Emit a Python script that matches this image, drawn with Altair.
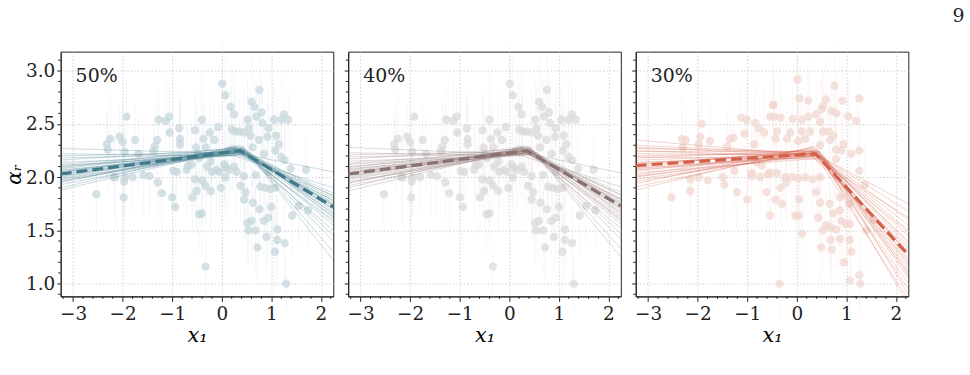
import altair as alt
import pandas as pd

# ---------------- data ----------------
panel_labels = ["50%", "40%", "30%"]
line_colors = ["#3f7a8c", "#8a7171", "#d4604a"]
point_colors = ["#c5d5da", "#d9d7d7", "#f1d5cf"]

x_domain = [-3.25, 2.25]
y_domain = [0.88, 3.18]

# points shared by the 50% and 40% panels
p12_x = [-1.92, -1.27, -1.13, -1.06, -2.25, -2.32, -2.30, -2.06, -2.00, -1.75,
         -1.05, -0.86, -1.30, -1.35, -1.38, -0.84, -0.84, -0.54, -1.96, -1.68,
         -2.15, -1.97, -1.95, -1.80, -1.58, -1.46, -2.53, -1.98, -1.29, -1.21,
         -1.00, -0.94, -0.98, -0.91, -0.71, -0.68, -0.61, -0.54, -0.59, -0.51,
         -0.46, -2.18,
         0.01, 0.07, 0.76, 0.60, 0.66, 0.18, 0.25, 0.70, 0.80, 0.52,
         0.82, 1.05, 1.20, 1.26, 1.34, -0.40, -0.24, -0.07, -0.37, -0.15,
         0.20, 0.27, 0.35, 0.45, 0.55, 0.58, 0.94, 0.92, 1.10, 0.75,
         1.15, 1.08, 1.20, 1.27, 1.39, 1.70, -0.52, -0.32, -0.22, -0.11,
         0.08, 0.15, -0.40, -0.33, -0.22, -0.02, 0.07, 0.45, 0.38, 0.48,
         0.45, 0.63, 0.76, 0.78, 0.88, 0.98, 1.08, 1.00, 0.94, 0.85,
         0.52, 0.60, 0.54, 0.68, 0.90, 1.12, 1.12, 1.27, 1.07, 0.72,
         1.42, -0.40, -0.33, 1.30, 1.74, 1.55, -0.49, 0.13, 0.21,
         -0.30, -0.20, -0.05, 0.05, 0.25, 0.30, -0.45, 0.40, 0.62, 0.85,
         0.95, 0.68]
p12_y = [2.57, 2.54, 2.53, 2.57, 2.36, 2.31, 2.26, 2.38, 2.33, 2.35,
         2.42, 2.46, 2.35, 2.29, 2.25, 2.36, 2.31, 2.44, 2.24, 2.22,
         2.00, 1.96, 2.00, 2.00, 2.02, 2.01, 1.84, 1.81, 1.95, 1.85,
         1.81, 1.72, 2.06, 2.05, 2.07, 2.11, 2.12, 1.98, 1.81, 1.87,
         1.65, 2.00,
         2.88, 2.77, 2.82, 2.71, 2.66, 2.66, 2.59, 2.57, 2.61, 2.54,
         2.51, 2.54, 2.54, 2.59, 2.54, 2.54, 2.42, 2.47, 2.36, 2.35,
         2.45, 2.43, 2.43, 2.42, 2.46, 2.39, 2.46, 2.38, 2.39, 2.35,
         2.31, 2.25, 2.19, 2.16, 2.08, 2.07, 2.28, 2.28, 2.15, 2.07,
         2.09, 2.07, 1.97, 1.92, 1.87, 1.90, 2.00, 2.01, 1.92, 1.86,
         1.79, 1.76, 1.70, 1.91, 1.90, 1.89, 1.90, 1.72, 1.62, 1.59,
         1.57, 1.59, 1.50, 1.50, 1.44, 1.51, 1.41, 1.38, 1.30, 1.34,
         1.64, 1.66, 1.16, 1.00, 1.69, 1.73, 2.22, 2.25, 2.26,
         2.10, 2.05, 2.05, 2.12, 2.10, 2.05, 2.18, 2.25, 2.28, 2.22,
         2.05, 2.02]
p12_err = [0.35, 0.30, 0.40, 0.28, 0.45, 0.32, 0.38, 0.30, 0.42, 0.35,
           0.40, 0.33, 0.36, 0.44, 0.30, 0.38, 0.41, 0.35, 0.29, 0.37,
           0.46, 0.34, 0.40, 0.31, 0.39, 0.36, 0.30, 0.42, 0.35, 0.38,
           0.33, 0.40, 0.37, 0.29, 0.43, 0.35, 0.39, 0.32, 0.36, 0.41,
           0.34, 0.38,
           0.40, 0.35, 0.32, 0.45, 0.30, 0.38, 0.42, 0.36, 0.33, 0.40,
           0.37, 0.31, 0.39, 0.35, 0.28, 0.44, 0.36, 0.41, 0.33, 0.38,
           0.40, 0.35, 0.30, 0.42, 0.37, 0.34, 0.39, 0.32, 0.36, 0.43,
           0.35, 0.38, 0.31, 0.40, 0.34, 0.30, 0.45, 0.37, 0.33, 0.41,
           0.36, 0.39, 0.42, 0.35, 0.38, 0.32, 0.40, 0.36, 0.33, 0.44,
           0.37, 0.31, 0.39, 0.35, 0.42, 0.30, 0.38, 0.36, 0.41, 0.34,
           0.37, 0.40, 0.33, 0.39, 0.35, 0.32, 0.43, 0.36, 0.38, 0.31,
           0.35, 0.40, 0.30, 0.28, 0.33, 0.37, 0.41, 0.36, 0.39,
           0.34, 0.38, 0.42, 0.35, 0.31, 0.40, 0.37, 0.33, 0.36, 0.39,
           0.35, 0.38]

# points of the 30% panel
p3_x = [-1.92, -1.13, -1.01, -0.84, -0.76, -0.66, -0.54, -0.48, -1.05, -1.28,
        -1.35, -1.40, -2.32, -2.24, -2.30, -1.95, -1.75, -1.98, -0.86, -0.91,
        -1.26, -1.50, -1.46, -1.80, -1.98, -2.15, -2.53, -2.15, -1.21, -1.00,
        -0.91, -0.74, -0.61, -0.58, -0.54, -0.81, -0.71,
        0.01, 0.76, 0.05, 0.23, 0.59, 0.53, 0.50, 0.92, 1.26, -0.47,
        -0.46, -0.33, -0.08, 0.10, 0.39, 0.23, 0.70, 0.80, 1.04, 1.20,
        0.47, -0.40, -0.13, 0.10, 0.27, 0.53, 0.64, -0.43, -0.20, 0.03,
        0.17, 0.67, 0.74, 0.94, 0.79, 0.90, 1.26, 1.10, 0.79, 0.47,
        -0.53, -0.40, -0.23, -0.10, 0.03, 0.17, 0.32, 0.47, -0.33, -0.21,
        -0.43, -0.30, 0.05, 0.39, 0.47, 0.66, 0.74, 0.87, 0.99, 1.07,
        1.26, 1.37, 0.87, 1.06, -0.03, 0.05, 0.43, 0.59, 0.68, 0.52,
        0.79, 0.90, 1.07, 0.87, 0.68, 0.49, 0.70, 1.10, 0.95, 1.07,
        1.26, 1.28, -0.35, 0.11, 1.40, 1.55]
p3_y = [2.50, 2.56, 2.54, 2.51, 2.46, 2.42, 2.57, 2.68, 2.41, 2.37,
        2.36, 2.29, 2.36, 2.35, 2.28, 2.38, 2.34, 2.31, 2.31, 2.04,
        2.06, 2.00, 1.93, 1.97, 2.00, 1.98, 1.81, 1.87, 1.86, 1.79,
        2.01, 2.00, 1.86, 2.03, 1.64, 2.14, 2.11,
        2.92, 2.86, 2.74, 2.72, 2.73, 2.67, 2.64, 2.72, 2.74, 2.68,
        2.57, 2.56, 2.55, 2.54, 2.59, 2.57, 2.62, 2.60, 2.57, 2.53,
        2.52, 2.43, 2.42, 2.43, 2.43, 2.43, 2.43, 2.36, 2.36, 2.34,
        2.36, 2.35, 2.39, 2.31, 2.26, 2.25, 2.25, 2.22, 2.17, 2.30,
        2.04, 2.04, 2.00, 2.00, 1.99, 2.00, 1.98, 2.00, 1.90, 1.95,
        1.79, 1.75, 1.79, 1.86, 1.76, 1.75, 1.66, 1.69, 1.56, 1.56,
        2.06, 1.93, 1.81, 1.75, 1.64, 1.64, 1.62, 1.55, 1.53, 1.50,
        1.51, 1.59, 1.41, 1.42, 1.41, 1.34, 1.32, 1.30, 1.20, 1.03,
        1.08, 1.00, 1.00, 1.47, 1.50, 1.60]
p3_err = [0.38, 0.33, 0.40, 0.35, 0.30, 0.42, 0.36, 0.39, 0.31, 0.44,
          0.37, 0.34, 0.40, 0.32, 0.38, 0.35, 0.41, 0.30, 0.36, 0.43,
          0.39, 0.33, 0.37, 0.40, 0.35, 0.31, 0.38, 0.42, 0.34, 0.36,
          0.40, 0.33, 0.37, 0.41, 0.35, 0.39, 0.32,
          0.36, 0.40, 0.33, 0.38, 0.42, 0.35, 0.31, 0.37, 0.34, 0.40,
          0.36, 0.39, 0.32, 0.43, 0.35, 0.38, 0.30, 0.41, 0.36, 0.34,
          0.39, 0.37, 0.33, 0.40, 0.35, 0.42, 0.31, 0.38, 0.36, 0.40,
          0.34, 0.37, 0.39, 0.33, 0.41, 0.35, 0.38, 0.30, 0.36, 0.42,
          0.37, 0.34, 0.40, 0.36, 0.31, 0.39, 0.35, 0.43, 0.33, 0.38,
          0.36, 0.40, 0.34, 0.37, 0.41, 0.32, 0.39, 0.35, 0.38, 0.30,
          0.36, 0.40, 0.33, 0.37, 0.42, 0.35, 0.39, 0.31, 0.38, 0.34,
          0.40, 0.36, 0.33, 0.41, 0.37, 0.35, 0.39, 0.32, 0.38, 0.36,
          0.34, 0.30, 0.35, 0.40, 0.37, 0.33]

# posterior sample lines: left-end value, break x, break value, right-end value
s1_left = [2.27, 2.20, 2.16, 2.12, 2.10, 2.08, 2.06, 2.05, 2.04, 2.02,
           2.00, 1.98, 1.97, 1.95, 1.93, 1.90, 1.88, 2.14, 2.22, 2.01,
           2.07, 2.03, 2.11, 1.99, 2.09, 1.96, 2.18, 2.05]
s1_bx = [0.45, 0.40, 0.30, 0.35, 0.42, 0.38, 0.33, 0.40, 0.36, 0.30,
         0.38, 0.44, 0.35, 0.32, 0.41, 0.37, 0.29, 0.50, 0.25, 0.48,
         0.55, 0.52, 0.34, 0.39, 0.31, 0.43, 0.36, 0.46]
s1_by = [2.22, 2.24, 2.27, 2.25, 2.23, 2.26, 2.25, 2.27, 2.24, 2.26,
         2.28, 2.25, 2.23, 2.29, 2.26, 2.30, 2.27, 2.21, 2.20, 2.24,
         2.22, 2.23, 2.21, 2.24, 2.28, 2.27, 2.22, 2.25]
s1_right = [1.85, 1.80, 1.70, 1.75, 1.78, 1.68, 1.72, 1.65, 1.74, 1.60,
            1.70, 1.82, 1.76, 1.55, 1.66, 1.62, 1.50, 2.05, 1.90, 1.40,
            1.22, 1.30, 1.83, 1.58, 1.63, 1.73, 1.78, 1.45]

s2_left = [2.28, 2.21, 2.17, 2.13, 2.10, 2.07, 2.06, 2.04, 2.03, 2.01,
           2.00, 1.98, 1.96, 1.94, 1.92, 1.90, 1.87, 2.15, 2.23, 2.02,
           2.08, 2.04, 2.12, 1.99, 2.09, 1.95, 2.19, 2.05]
s2_bx = [0.44, 0.38, 0.31, 0.35, 0.40, 0.37, 0.33, 0.41, 0.35, 0.29,
         0.39, 0.45, 0.34, 0.31, 0.42, 0.36, 0.28, 0.52, 0.26, 0.47,
         0.54, 0.50, 0.33, 0.38, 0.30, 0.43, 0.36, 0.45]
s2_by = [2.21, 2.24, 2.27, 2.25, 2.23, 2.26, 2.24, 2.27, 2.25, 2.26,
         2.28, 2.24, 2.23, 2.29, 2.26, 2.29, 2.27, 2.21, 2.20, 2.24,
         2.22, 2.23, 2.22, 2.25, 2.28, 2.26, 2.22, 2.25]
s2_right = [1.86, 1.79, 1.71, 1.76, 1.80, 1.69, 1.73, 1.66, 1.75, 1.62,
            1.71, 1.83, 1.77, 1.56, 1.67, 1.60, 1.52, 2.04, 1.91, 1.42,
            1.25, 1.33, 1.84, 1.59, 1.64, 1.74, 1.79, 1.47]

s3_left = [2.35, 2.30, 2.27, 2.25, 2.22, 2.20, 2.18, 2.16, 2.14, 2.12,
           2.10, 2.08, 2.06, 2.04, 2.02, 2.00, 1.98, 1.96, 1.94, 1.91,
           1.88, 2.19, 2.28, 2.07, 2.13, 2.01, 2.24, 2.09]
s3_bx = [0.45, 0.40, 0.35, 0.50, 0.42, 0.38, 0.33, 0.45, 0.40, 0.36,
         0.30, 0.44, 0.39, 0.48, 0.34, 0.42, 0.37, 0.46, 0.32, 0.41,
         0.35, 0.52, 0.28, 0.55, 0.43, 0.38, 0.47, 0.31]
s3_by = [2.20, 2.22, 2.24, 2.19, 2.21, 2.23, 2.25, 2.22, 2.20, 2.24,
         2.26, 2.21, 2.23, 2.18, 2.27, 2.25, 2.22, 2.24, 2.28, 2.26,
         2.29, 2.17, 2.21, 2.20, 2.23, 2.20, 2.24, 2.19]
s3_right = [1.75, 1.60, 1.50, 1.68, 1.40, 1.30, 1.20, 1.35, 1.25, 1.10,
            1.45, 1.15, 1.00, 1.28, 0.95, 1.05, 0.85, 1.22, 1.38, 0.80,
            1.12, 1.55, 1.33, 0.90, 1.18, 1.48, 1.08, 1.62]

# posterior mean lines (left value, break x, break value, right value)
mean_left = [2.03, 2.03, 2.11]
mean_bx = [0.37, 0.35, 0.38]
mean_by = [2.25, 2.25, 2.22]
mean_right = [1.72, 1.73, 1.27]

# axis tick positions
x_major = [-3, -2, -1, 0, 1, 2]
x_minor = [-3.2, -2.8, -2.6, -2.4, -2.2, -1.8, -1.6, -1.4, -1.2, -0.8, -0.6,
           -0.4, -0.2, 0.2, 0.4, 0.6, 0.8, 1.2, 1.4, 1.6, 1.8, 2.2]
y_major = [1.0, 1.5, 2.0, 2.5, 3.0]
y_minor = [0.9, 1.1, 1.2, 1.3, 1.4, 1.6, 1.7, 1.8, 1.9, 2.1, 2.2, 2.3, 2.4,
           2.6, 2.7, 2.8, 2.9, 3.1]

FONT = "'DejaVu Serif', 'Liberation Serif', 'Noto Serif', 'Times New Roman', serif"
W, H = 274, 246
MINOR = 2.5


def panel(i, px, py, pe, sl, sbx, sby, sr, show_y):
    color = line_colors[i]
    pcolor = point_colors[i]
    pts = pd.DataFrame({
        "x": px, "y": py,
        "lo": [a - b for a, b in zip(py, pe)],
        "hi": [a + b for a, b in zip(py, pe)],
    })
    rows = []
    for k in range(len(sl)):
        rows += [
            {"s": k, "x": x_domain[0], "y": sl[k], "o": 0},
            {"s": k, "x": sbx[k], "y": sby[k], "o": 1},
            {"s": k, "x": x_domain[1], "y": sr[k], "o": 2},
        ]
    samples = pd.DataFrame(rows)
    mean = pd.DataFrame({
        "x": [x_domain[0], mean_bx[i], x_domain[1]],
        "y": [mean_left[i], mean_by[i], mean_right[i]],
        "o": [0, 1, 2],
    })

    xs = alt.Scale(domain=x_domain, nice=False, zero=False)
    ys = alt.Scale(domain=y_domain, nice=False, zero=False)
    xax = alt.Axis(values=x_major, format=".0f", tickSize=5, labelFlush=False,
                   title="x₁", titleFont=FONT, titleFontStyle="italic",
                   titleFontSize=21, titleFontWeight="normal", titlePadding=2)
    yax = alt.Axis(values=y_major, format=".1f", tickSize=4, labels=show_y,
                   title="αᵣ" if show_y else None, titleFont=FONT,
                   titleFontStyle="italic", titleFontSize=20,
                   titleFontWeight="normal", titlePadding=1)
    X = alt.X("x:Q", scale=xs, axis=xax)
    Y = alt.Y("y:Q", scale=ys, axis=yax)

    err = alt.Chart(pts).mark_rule(color=pcolor, opacity=0.2, strokeWidth=1).encode(
        x=X, y=alt.Y("lo:Q", scale=ys, axis=yax), y2="hi:Q")
    dots = alt.Chart(pts).mark_circle(color=pcolor, opacity=0.72, size=70).encode(x=X, y=Y)
    lines = alt.Chart(samples).mark_line(color=color, opacity=0.35, strokeWidth=0.8,
                                         clip=True).encode(
        x=X, y=Y, detail="s:N", order="o:Q")
    mline = alt.Chart(mean).mark_line(color=color, strokeWidth=3.2, strokeDash=[11, 5],
                                      clip=True).encode(x=X, y=Y, order="o:Q")
    lab = alt.Chart(pd.DataFrame({"t": [panel_labels[i]]})).mark_text(
        font=FONT, fontSize=19, align="left", baseline="middle", color="#222"
    ).encode(text="t:N", x=alt.value(15), y=alt.value(25))

    xminor = alt.Chart(pd.DataFrame({"v": x_minor})).mark_rule(
        color="#222", strokeWidth=1).encode(
        x=alt.X("v:Q", scale=xs, axis=xax), y=alt.value(H), y2=alt.value(H + MINOR))
    yminor = alt.Chart(pd.DataFrame({"v": y_minor})).mark_rule(
        color="#222", strokeWidth=1).encode(
        y=alt.Y("v:Q", scale=ys, axis=yax), x=alt.value(0), x2=alt.value(-MINOR))

    return alt.layer(err, dots, lines, mline, lab, xminor, yminor).properties(
        width=W, height=H)


c1 = panel(0, p12_x, p12_y, p12_err, s1_left, s1_bx, s1_by, s1_right, True)
c2 = panel(1, p12_x, p12_y, p12_err, s2_left, s2_bx, s2_by, s2_right, False)
c3 = panel(2, p3_x, p3_y, p3_err, s3_left, s3_bx, s3_by, s3_right, False)

chart = alt.hconcat(c1, c2, c3, spacing=9).properties(
    title=alt.TitleParams("9", anchor="end", font=FONT, fontSize=19,
                          fontWeight="normal", color="#222", dx=56, offset=14),
    padding={"left": 4, "top": 6, "right": 5, "bottom": 5},
).configure_view(stroke="#222", strokeWidth=1).configure_axis(
    labelFont=FONT, labelFontSize=18.5, labelColor="#222",
    domainColor="#222", tickColor="#222", labelPadding=2,
    gridColor="#c4c4c4", gridDash=[1.5, 2], gridWidth=0.8,
).configure_axisX(labelPadding=3)

chart.save("out.html", embed_options={"renderer": "svg", "actions": False})
